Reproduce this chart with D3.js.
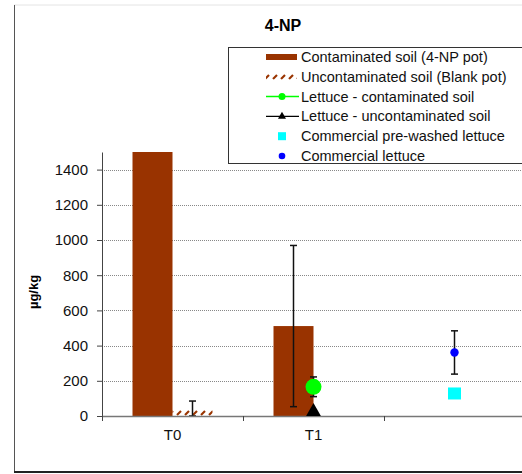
<!DOCTYPE html>
<html>
<head>
<meta charset="utf-8">
<script src="https://cdn.jsdelivr.net/npm/d3@7"></script>
<style>
  body { margin: 0; background: #fff; }
  svg { display: block; font-family: "Liberation Sans", Arial, sans-serif; }
</style>
</head>
<body>
<svg width="522" height="474"></svg>
<script>
// chart values
const categories = ["T0", "T1", ""];
const yTicks = [0, 200, 400, 600, 800, 1000, 1200, 1400];

const contaminatedSoil = [1500, 511, null];
const contaminatedSoilErr = [null, 458, null];
const blankSoil = [35, null, null];
const blankSoilErr = [50, null, null];
const lettuceContaminated = [null, 166, null];
const lettuceContaminatedErr = [null, 56, null];
const lettuceUncontaminated = [null, 25, null];
const commercialPrewashed = [null, null, 128];
const commercialLettuce = [null, null, 361];
const commercialLettuceErr = [null, null, 123];

const legendLabels = [
    "Contaminated soil (4-NP pot)",
    "Uncontaminated soil (Blank pot)",
    "Lettuce - contaminated soil",
    "Lettuce - uncontaminated soil",
    "Commercial pre-washed lettuce",
    "Commercial lettuce"
];

const brown = "#993300";
const svg = d3.select("svg");

const plot = {left: 102, right: 525, top: 152, bottom: 416};
const xScale = d3.scaleBand().domain(categories).range([plot.left, plot.right]);
const yScale = d3.scaleLinear().domain([0, 1500]).range([plot.bottom, plot.top]);
const barW = 40;
const mid = c => xScale(c) + xScale.bandwidth() / 2;

// hatch pattern for the blank pot
const defs = svg.append("defs");
const pat = defs.append("pattern").attr("id", "hatch").attr("patternUnits", "userSpaceOnUse")
    .attr("width", 8).attr("height", 8);
pat.append("path").attr("d", "M1,7 L5,3").attr("stroke", brown).attr("stroke-width", 2.2);

// outer frame
svg.append("line").attr("x1", 14).attr("x2", 522).attr("y1", 5).attr("y2", 5).attr("stroke", "#e4e4e4");
svg.append("line").attr("x1", 14.5).attr("x2", 14.5).attr("y1", 5).attr("y2", 472).attr("stroke", "#555");
svg.append("line").attr("x1", 14).attr("x2", 522).attr("y1", 472).attr("y2", 472).attr("stroke", "#222").attr("stroke-width", 2);

svg.append("text").attr("x", 283).attr("y", 31).attr("text-anchor", "middle")
    .attr("font-weight", "bold").attr("font-size", 16).text("4-NP");

// gridlines
svg.append("g").selectAll("line").data(yTicks.filter(d => d > 0)).enter().append("line")
    .attr("x1", plot.left).attr("x2", 522)
    .attr("y1", d => Math.round(yScale(d)) + 0.5).attr("y2", d => Math.round(yScale(d)) + 0.5)
    .attr("stroke", "#888").attr("stroke-dasharray", "1,1");

// bars
svg.append("g").selectAll("rect").data(categories).enter()
    .filter((c, i) => contaminatedSoil[i] != null).append("rect")
    .attr("x", c => mid(c) - barW).attr("width", barW)
    .attr("y", c => yScale(contaminatedSoil[categories.indexOf(c)]))
    .attr("height", c => plot.bottom - yScale(contaminatedSoil[categories.indexOf(c)]))
    .attr("fill", brown);
svg.append("g").selectAll("rect").data(categories).enter()
    .filter((c, i) => blankSoil[i] != null).append("rect")
    .attr("x", c => mid(c)).attr("width", barW)
    .attr("y", c => yScale(blankSoil[categories.indexOf(c)]))
    .attr("height", c => plot.bottom - yScale(blankSoil[categories.indexOf(c)]))
    .attr("fill", "url(#hatch)");

// error bars
function errorBars(vals, errs, dx) {
    const g = svg.append("g").attr("stroke", "#111").attr("stroke-width", 1.5);
    categories.forEach((c, i) => {
        if (vals[i] == null || errs[i] == null) return;
        const x = mid(c) + dx;
        const y1 = yScale(vals[i] + errs[i]), y2 = yScale(Math.max(0, vals[i] - errs[i]));
        g.append("line").attr("x1", x).attr("x2", x).attr("y1", y1).attr("y2", y2);
        g.append("line").attr("x1", x - 3.5).attr("x2", x + 3.5).attr("y1", y1).attr("y2", y1);
        g.append("line").attr("x1", x - 3.5).attr("x2", x + 3.5).attr("y1", y2).attr("y2", y2);
    });
}
errorBars(contaminatedSoil, contaminatedSoilErr, -barW / 2);
errorBars(blankSoil, blankSoilErr, barW / 2);
errorBars(lettuceContaminated, lettuceContaminatedErr, 0);
errorBars(commercialLettuce, commercialLettuceErr, 0);

// axes
const gy = svg.append("g").attr("transform", `translate(${plot.left},0)`)
    .call(d3.axisLeft(yScale).tickValues(yTicks).tickFormat(d3.format("d"))
        .tickSizeInner(5).tickSizeOuter(0).tickPadding(9));
gy.select(".domain").attr("stroke", "#444");
gy.selectAll(".tick line").attr("x1", 1).attr("stroke", "#444");
gy.selectAll(".tick text").attr("font-size", 15).attr("fill", "#111").attr("font-family", "Liberation Sans, Arial, sans-serif");

const gx = svg.append("g").attr("transform", `translate(0,${plot.bottom})`)
    .call(d3.axisBottom(xScale).tickSize(0).tickPadding(13));
gx.select(".domain").attr("stroke", "#777").attr("stroke-width", 1.5);
gx.selectAll(".tick text").attr("font-size", 15).attr("fill", "#111").attr("font-family", "Liberation Sans, Arial, sans-serif");
gx.selectAll("line.sep").data(categories).enter().append("line").attr("class", "sep")
    .attr("x1", c => xScale(c) + 0.5).attr("x2", c => xScale(c) + 0.5)
    .attr("y1", 0).attr("y2", 5).attr("stroke", "#444");

svg.append("text").attr("transform", "translate(38,292) rotate(-90)").attr("text-anchor", "middle")
    .attr("font-weight", "bold").attr("font-size", 13).text("µg/kg");

// point series
svg.append("g").selectAll("circle").data(categories).enter()
    .filter((c, i) => lettuceContaminated[i] != null).append("circle")
    .attr("cx", mid).attr("cy", c => yScale(lettuceContaminated[categories.indexOf(c)]))
    .attr("r", 8).attr("fill", "#00ff00");
const tri = d3.symbol().type(d3.symbolTriangle).size(95);
svg.append("g").selectAll("path").data(categories).enter()
    .filter((c, i) => lettuceUncontaminated[i] != null).append("path")
    .attr("transform", c => `translate(${mid(c)},${yScale(lettuceUncontaminated[categories.indexOf(c)])})`)
    .attr("d", tri).attr("fill", "#000");
svg.append("g").selectAll("rect").data(categories).enter()
    .filter((c, i) => commercialPrewashed[i] != null).append("rect")
    .attr("x", c => mid(c) - 6.5).attr("width", 13)
    .attr("y", c => yScale(commercialPrewashed[categories.indexOf(c)]) - 6).attr("height", 12)
    .attr("fill", "#00ffff");
svg.append("g").selectAll("circle").data(categories).enter()
    .filter((c, i) => commercialLettuce[i] != null).append("circle")
    .attr("cx", mid).attr("cy", c => yScale(commercialLettuce[categories.indexOf(c)]))
    .attr("r", 4.2).attr("fill", "#0000ff");

// legend
const lg = svg.append("g");
lg.append("rect").attr("x", 228.5).attr("y", 47.5).attr("width", 320).attr("height", 116)
    .attr("fill", "#fff").attr("stroke", "#333");
const rowY = i => 57 + i * 19.8;
lg.selectAll("text").data(legendLabels).enter().append("text")
    .attr("x", 301).attr("y", (d, i) => rowY(i) + 5).attr("font-size", 14.5).attr("fill", "#111").text(d => d);
lg.append("rect").attr("x", 266).attr("y", rowY(0) - 3).attr("width", 31).attr("height", 6).attr("fill", brown);
lg.append("rect").attr("x", 266).attr("y", rowY(1) - 3).attr("width", 31).attr("height", 6).attr("fill", "url(#hatch)");
lg.append("line").attr("x1", 266).attr("x2", 299).attr("y1", rowY(2)).attr("y2", rowY(2)).attr("stroke", "#00ff00").attr("stroke-width", 1.5);
lg.append("circle").attr("cx", 282).attr("cy", rowY(2)).attr("r", 3.5).attr("fill", "#00ff00");
lg.append("line").attr("x1", 266).attr("x2", 299).attr("y1", rowY(3)).attr("y2", rowY(3)).attr("stroke", "#000").attr("stroke-width", 1.2);
lg.append("path").attr("transform", `translate(282,${rowY(3)})`).attr("d", d3.symbol().type(d3.symbolTriangle).size(28)).attr("fill", "#000");
lg.append("rect").attr("x", 278).attr("y", rowY(4) - 4).attr("width", 8).attr("height", 8).attr("fill", "#00ffff");
lg.append("circle").attr("cx", 282).attr("cy", rowY(5)).attr("r", 3.3).attr("fill", "#0000ff");
</script>
</body>
</html>
